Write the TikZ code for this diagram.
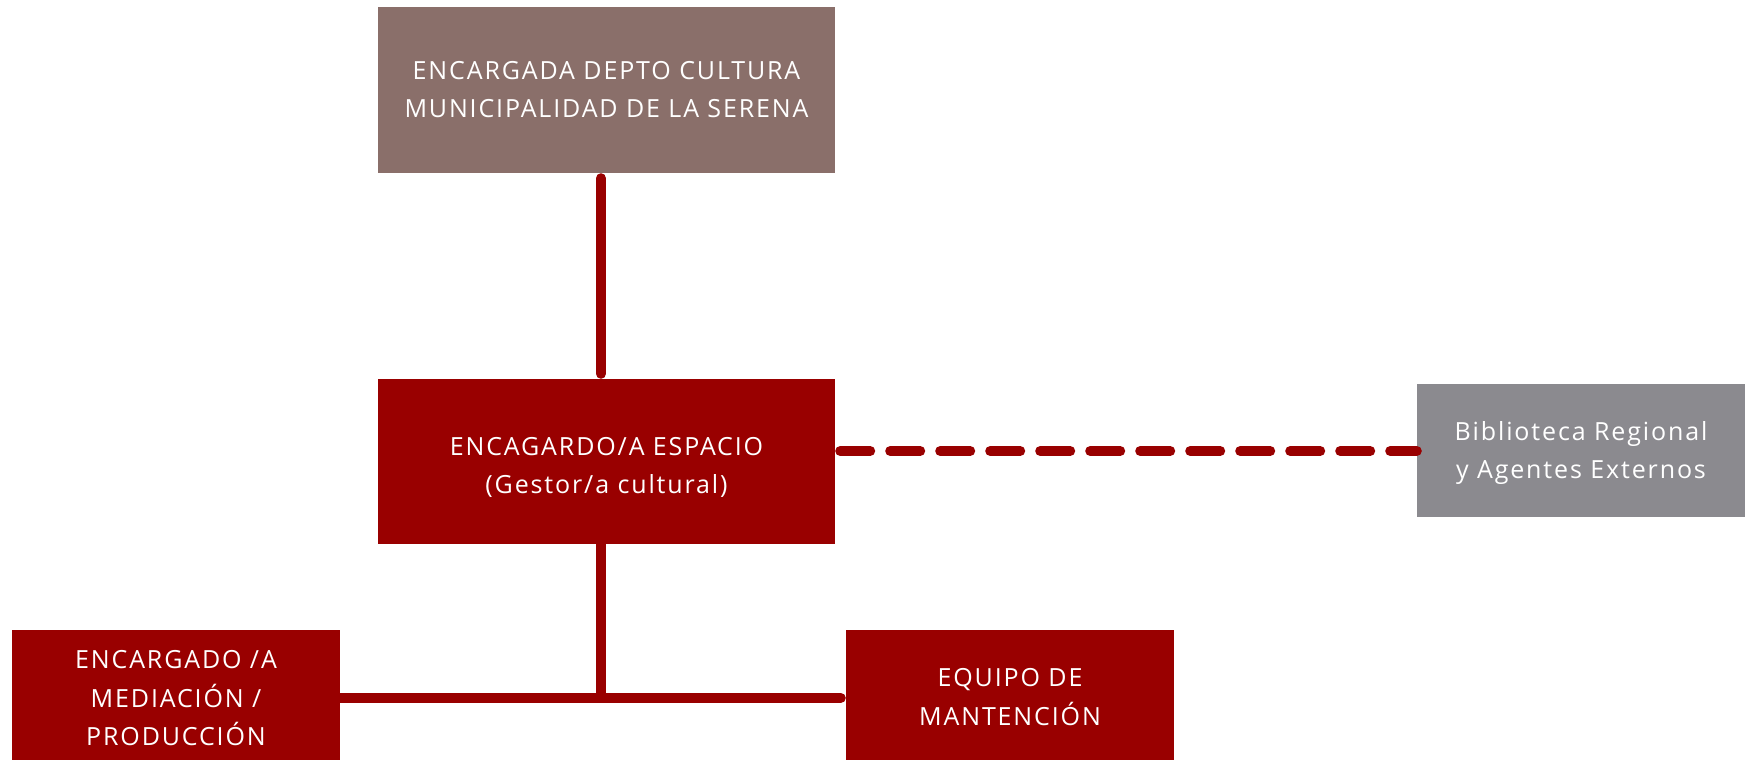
\documentclass[tikz,border=0pt]{standalone}
\usepackage{fontspec}
\setmainfont{Open Sans}[LetterSpace=7.5]
\definecolor{darkred}{RGB}{153,0,0}
\definecolor{mauve}{RGB}{138,111,106}
\definecolor{greybox}{RGB}{139,138,143}
\tikzset{
  boxshape/.style={rectangle, inner sep=0pt, draw=none},
  lbl/.style={text=white, align=center, font=\fontsize{25}{38.5}\selectfont, inner sep=0pt},
  conn/.style={draw=darkred, line width=10pt, line cap=round},
  dashconn/.style={draw=darkred, line width=10pt, line cap=round, dash pattern=on 30pt off 20pt},
}
\begin{document}
\begin{tikzpicture}[x=1pt,y=-1pt]
\useasboundingbox (0,0) rectangle (1751,760);
% boxes
\node[boxshape, fill=mauve, minimum width=457pt, minimum height=166pt] (top) at (606.5,90) {};
\node[boxshape, fill=darkred, minimum width=457pt, minimum height=165pt] (mid) at (606.5,461.5) {};
\node[boxshape, fill=greybox, minimum width=328pt, minimum height=133pt] (ext) at (1581,450.5) {};
\node[boxshape, fill=darkred, minimum width=328pt, minimum height=140pt] (med) at (176,700) {};
\node[boxshape, fill=darkred, minimum width=328pt, minimum height=140pt] (man) at (1010,700) {};
% labels
\node[lbl] (toplbl) at (606.5,89.5) {ENCARGADA DEPTO CULTURA\\MUNICIPALIDAD DE LA SERENA};
\node[lbl] (midlbl) at (606.5,467.5) {ENCAGARDO/A ESPACIO\\(Gestor/a cultural)};
\node[lbl] (extlbl) at (1581,453) {Biblioteca Regional\\y Agentes Externos};
\node[lbl] (medlbl) at (176,698.5) {ENCARGADO /A\\MEDIACIÓN /\\PRODUCCIÓN};
\node[lbl] (manlbl) at (1010,697) {EQUIPO DE\\MANTENCIÓN};
% connectors
\coordinate (j) at (601,698);
\draw[conn] ([xshift=-5.5pt,yshift=-5pt]top.south) -- ([xshift=-5.5pt,yshift=5pt]mid.north);
\draw[conn, line cap=butt] ([xshift=-5.5pt]mid.south) -- ([yshift=5pt]j);
\draw[conn, line cap=butt] (med.east |- j) -- ([xshift=5pt]j);
\draw[conn] (j) -- ([xshift=-5pt]man.west |- j);
\draw[dashconn] ([xshift=5pt]mid.east |- 0,451) -- (ext.west |- 0,451);
\end{tikzpicture}
\end{document}
